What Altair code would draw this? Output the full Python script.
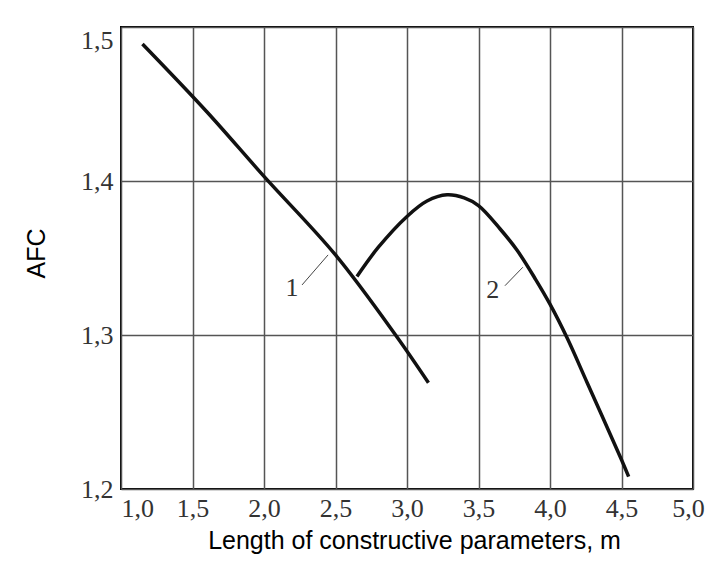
import altair as alt
import pandas as pd

# Curve 1
c1_x = [1.15, 1.6, 2.0, 2.5, 2.92, 3.15]
c1_y = [1.489, 1.445, 1.403, 1.352, 1.300, 1.269]
# Curve 2
c2_x = [2.65, 2.8, 3.0, 3.14, 3.28, 3.4, 3.5, 3.65, 3.77, 3.9, 4.0, 4.12, 4.26, 4.5, 4.55]
c2_y = [1.338, 1.357, 1.377, 1.387, 1.391, 1.389, 1.384, 1.369, 1.355, 1.336, 1.320, 1.298, 1.269, 1.219, 1.208]

# Curve labels and leader lines
lab_text = ["1", "2"]
lab_x = [2.196, 3.60]
lab_y = [1.3305, 1.329]
lead_x1 = [2.266, 3.685]
lead_y1 = [1.3325, 1.332]
lead_x2 = [2.448, 3.81]
lead_y2 = [1.352, 1.344]

x_ticks = [1.0, 1.5, 2.0, 2.5, 3.0, 3.5, 4.0, 4.5, 5.0]
y_ticks = [1.2, 1.3, 1.4, 1.5]

curves = pd.concat([
    pd.DataFrame({"x": c1_x, "y": c1_y, "curve": "1"}),
    pd.DataFrame({"x": c2_x, "y": c2_y, "curve": "2"}),
])
labels = pd.DataFrame({"t": lab_text, "x": lab_x, "y": lab_y})
leaders = pd.DataFrame({"x": lead_x1, "y": lead_y1, "x2": lead_x2, "y2": lead_y2})

xscale = alt.Scale(domain=[1.0, 5.0], nice=False, zero=False)
yscale = alt.Scale(domain=[1.2, 1.5], nice=False, zero=False)

xaxis = alt.Axis(
    values=x_ticks,
    title="Length of constructive parameters, m",
    labelExpr="replace(format(datum.value, '.1f'), '.', ',')",
    labelAlign={"condition": {"test": "datum.value <= 1.0", "value": "left"}, "value": "center"},
    labelOffset={"condition": {"test": "datum.value >= 5.0", "value": -5}, "value": 0},
    labelFont="Liberation Serif", labelFontSize=26, labelColor="#333333",
    labelPadding=6, ticks=False, domain=False,
    grid=True, gridColor="#555555", gridWidth=1.5,
    titleFont="Liberation Sans", titleFontSize=25, titleFontWeight="normal", titleColor="#000000",
    titleX=293, titleY=59, titleBaseline="alphabetic", titleAlign="center",
    labelFlush=False, labelOverlap=False,
)
yaxis = alt.Axis(
    values=y_ticks,
    title="AFC",
    labelExpr="replace(format(datum.value, '.1f'), '.', ',')",
    labelBaseline={"condition": {"test": "datum.value >= 1.5", "value": "top"}, "value": "middle"},
    labelFont="Liberation Serif", labelFontSize=26, labelColor="#333333",
    labelPadding=8, ticks=False, domain=False,
    grid=True, gridColor="#555555", gridWidth=1.5,
    titleFont="Liberation Sans", titleFontSize=25, titleFontWeight="normal", titleColor="#000000",
    titleX=-85, titleY=226, titleAngle=270, titleAlign="center", titleBaseline="middle",
    labelFlush=False, labelOverlap=False,
)

lines = alt.Chart(curves).mark_line(color="#111111", strokeWidth=3.5, interpolate="catmull-rom").encode(
    x=alt.X("x:Q", scale=xscale, axis=xaxis),
    y=alt.Y("y:Q", scale=yscale, axis=yaxis),
    detail="curve:N",
)

lead = alt.Chart(leaders).mark_rule(color="#444444", strokeWidth=1).encode(
    x=alt.X("x:Q", scale=xscale), y=alt.Y("y:Q", scale=yscale),
    x2="x2:Q", y2="y2:Q",
)

txt = alt.Chart(labels).mark_text(font="Liberation Serif", fontSize=26, color="#333333",
                                  align="center", baseline="middle").encode(
    x=alt.X("x:Q", scale=xscale), y=alt.Y("y:Q", scale=yscale), text="t:N",
)

chart = alt.layer(lines, lead, txt).properties(
    width=572, height=462,
    autosize=alt.AutoSizeParams(type="none"),
    padding={"left": 113, "top": 19, "right": 12, "bottom": 65},
    background="white",
).configure_view(stroke="#000000", strokeWidth=2)

chart.save("out.html", embed_options={"renderer": "svg", "actions": False})
